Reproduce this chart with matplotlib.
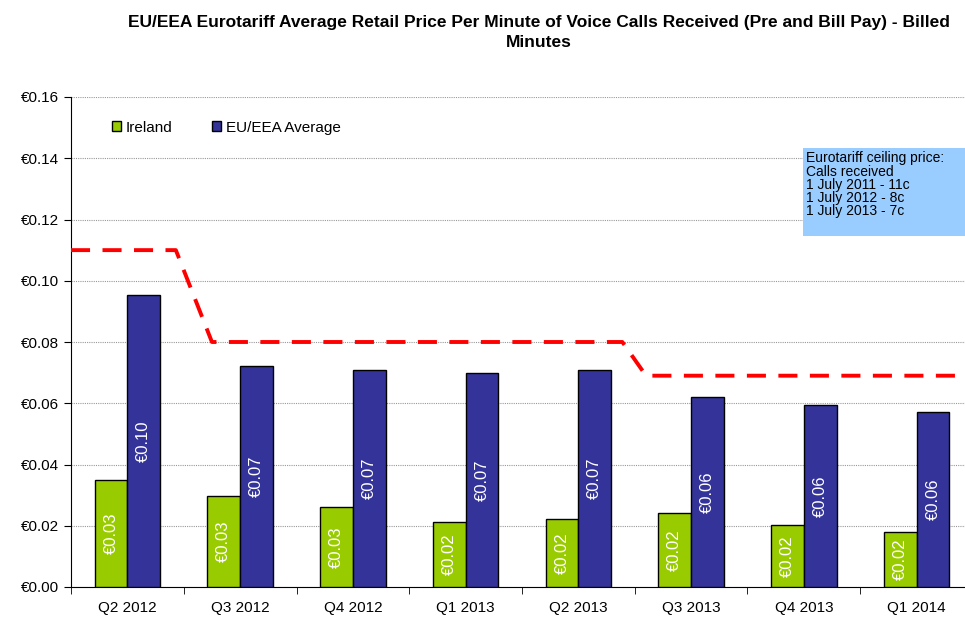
import matplotlib
matplotlib.use("Agg")
import matplotlib.pyplot as plt
import numpy as np
from matplotlib.patches import Rectangle

quarters = ["Q2 2012", "Q3 2012", "Q4 2012", "Q1 2013",
            "Q2 2013", "Q3 2013", "Q4 2013", "Q1 2014"]
ireland = [0.0349, 0.0298, 0.0262, 0.0212, 0.0222, 0.0242, 0.0202, 0.0180]
eu_avg = [0.0952, 0.0722, 0.0709, 0.0699, 0.0709, 0.0620, 0.0594, 0.0571]

# ceiling price line, x in quarter units (0 = Q2 2012)
ceiling_x = [-0.5, 0.43, 0.75, 4.39, 4.6, 7.5]
ceiling_y = [0.11, 0.11, 0.08, 0.08, 0.069, 0.069]

box_lines = ["Eurotariff ceiling price:", "Calls received",
             "1 July 2011 - 11c", "1 July 2012 - 8c", "1 July 2013 - 7c"]

GREEN = "#99CC00"
NAVY = "#333399"

plt.rcParams["font.family"] = ["Liberation Sans", "DejaVu Sans"]

fig = plt.figure(figsize=(9.65, 6.17), dpi=100)
ax = fig.add_axes([71 / 965, 30 / 617, 902 / 965, 490 / 617])

x = np.arange(len(quarters))
w = 0.29
b1 = ax.bar(x - w / 2, ireland, w, color=GREEN, edgecolor="black", linewidth=1.0,
            label="Ireland", zorder=3)
b2 = ax.bar(x + w / 2, eu_avg, w, color=NAVY, edgecolor="black", linewidth=1.0,
            label="EU/EEA Average", zorder=3)

for bars, vals in ((b1, ireland), (b2, eu_avg)):
    for rect, v in zip(bars, vals):
        ax.text(rect.get_x() + rect.get_width() / 2, v / 2, f"€{v:.2f}",
                rotation=90, ha="center", va="center", color="white",
                fontsize=12, zorder=4)

ax.plot(ceiling_x, ceiling_y, color="#FF0000", linewidth=2.8,
        linestyle=(0, (4.9, 3.2)), zorder=5, solid_capstyle="butt")

ax.set_xlim(-0.5, len(quarters) - 0.5)
ax.set_ylim(0, 0.16)
ax.set_yticks(np.arange(0, 0.161, 0.02))
ax.set_yticklabels([f"€{v:.2f}" for v in np.arange(0, 0.161, 0.02)])
ax.set_xticks(x)
ax.set_xticklabels(quarters)
ax.set_xticks(np.arange(-0.5, len(quarters), 1), minor=True)
ax.tick_params(axis="x", which="major", length=0, pad=10, labelsize=11)
ax.tick_params(axis="x", which="minor", length=5, direction="out")
ax.tick_params(axis="y", length=5, direction="out", labelsize=11)

ax.grid(axis="y", color="#999999", linestyle=(0, (1, 1)), linewidth=0.8, zorder=0)
ax.spines["top"].set_visible(False)
ax.spines["right"].set_visible(False)

ax.legend(loc="upper left", bbox_to_anchor=(0.03, 0.98), ncol=2, frameon=False,
          fontsize=11, handlelength=0.6, handleheight=0.6, handletextpad=0.3,
          columnspacing=2.6)

box = Rectangle((0.8115, 0.716), 0.2, 0.18, transform=ax.transAxes,
                facecolor="#99CCFF", edgecolor="none", zorder=6, clip_on=False)
ax.add_patch(box)
ax.text(0.8145, 0.889, "\n".join(box_lines), transform=ax.transAxes,
        ha="left", va="top", fontsize=10, linespacing=0.92, zorder=7)

fig.text(0.558, 0.975, "EU/EEA Eurotariff Average Retail Price Per Minute of Voice Calls Received (Pre and Bill Pay) - Billed\nMinutes",
         ha="center", va="top", fontsize=12.5, fontweight="bold",
         family=["Liberation Sans Narrow", "Liberation Sans", "DejaVu Sans"],
         linespacing=1.4)

fig.savefig("out.png", dpi=100)
